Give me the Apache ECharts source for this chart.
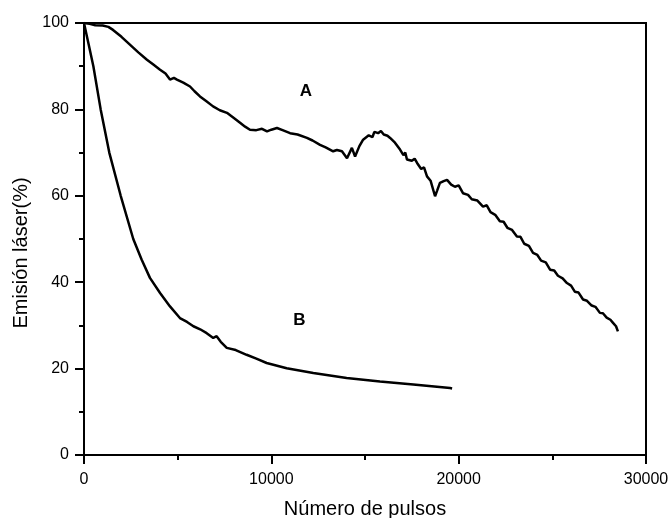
<!DOCTYPE html>
<html>
<head>
<meta charset="utf-8">
<script src="https://cdn.jsdelivr.net/npm/echarts@6/dist/echarts.min.js"></script>
<style>
html,body{margin:0;padding:0;background:#fff;}
#chart{width:672px;height:518px;}
</style>
</head>
<body>
<div id="chart"></div>
<script>
// Curve A: [número de pulsos, emisión láser %]
const curveA = [
  [0,100],[300,99.8],[600,99.5],[1000,99.4],[1300,99.1],[1550,98.4],[2000,96.8],[2450,95],
  [2900,93.2],[3360,91.5],[3700,90.4],[4060,89.2],[4350,88.3],[4590,86.9],[4800,87.3],[4960,86.9],
  [5300,86.2],[5660,85.3],[5900,84.2],[6190,83],[6500,82],[6890,80.7],[7250,79.8],[7630,79.2],
  [8000,78],[8330,76.9],[8600,76],[8860,75.3],[9200,75.2],[9500,75.5],[9770,74.9],[10000,75.3],
  [10300,75.7],[10600,75.2],[11000,74.5],[11400,74.2],[11900,73.4],[12200,72.8],[12600,71.8],
  [12900,71.2],[13300,70.3],[13500,70.6],[13770,70.3],[14040,68.7],[14300,71.1],[14470,69.1],
  [14700,71.5],[14900,73],[15200,74],[15400,73.6],[15500,74.8],[15700,74.5],[15850,75],[16000,74.2],
  [16200,73.9],[16340,73.4],[16600,72.3],[16870,70.7],[17050,69.4],[17150,70],[17240,68.4],[17500,68.1],
  [17650,68.6],[17780,67.6],[18000,66.2],[18150,66.6],[18310,64.5],[18500,63.5],[18740,59.9],[18850,61.2],
  [19000,63],[19200,63.4],[19380,63.7],[19600,62.6],[19800,62.1],[20000,62.4],[20230,60.6],[20500,60.2],
  [20700,59.2],[21000,58.9],[21300,57.5],[21500,57.8],[21700,56.2],[21950,55.6],[22200,54.1],[22400,54],
  [22600,52.6],[22850,52.1],[23110,50.6],[23300,50.5],[23500,48.9],[23750,48.4],[23970,46.8],[24200,46.3],
  [24400,45],[24650,44.6],[24880,42.9],[25100,42.7],[25300,41.5],[25550,40.9],[25780,39.8],[26000,39.2],
  [26200,37.8],[26400,37.6],[26640,36],[26850,35.7],[27100,34.6],[27300,34.3],[27540,32.9],[27700,32.8],
  [27900,31.8],[28100,31.3],[28240,30.6],[28400,29.8],[28500,28.6]
];
// Curve B
const curveB = [
  [0,100],[250,95],[500,90],[890,80],[1350,70],[1960,60],[2630,50],[3080,45.2],[3520,41],[4060,37.5],
  [4590,34.4],[5120,31.7],[5500,30.8],[5840,29.8],[6200,29.1],[6550,28.2],[6900,27.1],[7080,27.5],[7300,26.2],[7620,24.8],
  [8100,24.3],[8680,23.2],[9200,22.3],[9750,21.3],[10820,20.1],[12240,19],[14020,17.8],[15800,17],[17580,16.3],[19540,15.5],[19650,15.4]
];
const curveLabels = ['A', 'B'];
const labelPosA = [11850, 84.3];
const labelPosB = [11500, 31.1];
const xTicks = [0, 10000, 20000, 30000];
const yTicks = [0, 20, 40, 60, 80, 100];

const FONT = '"Liberation Sans", Arial, Helvetica, sans-serif';
const chart = echarts.init(document.getElementById('chart'), null, {renderer: 'canvas'});

function axisCommon(extra) {
  return Object.assign({
    type: 'value',
    axisLine: {show: true, onZero: false, lineStyle: {color: '#000', width: 2}},
    axisTick: {show: true, inside: false, length: 9, lineStyle: {color: '#000', width: 2}},
    minorTick: {show: true, splitNumber: 2, length: 5, lineStyle: {color: '#000', width: 2}},
    splitLine: {show: false},
    nameLocation: 'middle'
  }, extra);
}

chart.setOption({
  animation: false,
  backgroundColor: '#fff',
  grid: {left: 84, right: 26, top: 23, bottom: 63, containLabel: false, outerBoundsMode: 'none',
         show: true, borderColor: '#000', borderWidth: 2, backgroundColor: 'transparent'},
  xAxis: axisCommon({
    min: xTicks[0], max: xTicks[xTicks.length - 1], interval: xTicks[1] - xTicks[0],
    name: 'Número de pulsos', nameGap: 44,
    nameTextStyle: {color: '#000', fontSize: 20, fontFamily: FONT},
    axisLabel: {color: '#000', fontSize: 16, fontFamily: FONT, margin: 17, formatter: v => String(v)}
  }),
  yAxis: axisCommon({
    min: yTicks[0], max: yTicks[yTicks.length - 1], interval: yTicks[1] - yTicks[0],
    name: 'Emisión láser(%)', nameGap: 51,
    nameTextStyle: {color: '#000', fontSize: 20, fontFamily: FONT, padding: [0, 28, 0, 0]},
    axisLabel: {color: '#000', fontSize: 16, fontFamily: FONT, margin: 15, formatter: v => String(v)}
  }),
  series: [
    {
      name: curveLabels[0], type: 'line', data: curveA, showSymbol: false, symbol: 'none',
      lineStyle: {color: '#000', width: 2.5}, z: 3,
      markPoint: {
        symbol: 'circle', symbolSize: 0,
        label: {show: true, position: 'inside', formatter: curveLabels[0], color: '#000', fontSize: 17, fontWeight: 'bold', fontFamily: FONT},
        data: [{coord: labelPosA}]
      }
    },
    {
      name: curveLabels[1], type: 'line', data: curveB, showSymbol: false, symbol: 'none',
      lineStyle: {color: '#000', width: 2.5}, z: 3,
      markPoint: {
        symbol: 'circle', symbolSize: 0,
        label: {show: true, position: 'inside', formatter: curveLabels[1], color: '#000', fontSize: 17, fontWeight: 'bold', fontFamily: FONT},
        data: [{coord: labelPosB}]
      }
    }
  ]
});
</script>
</body>
</html>
